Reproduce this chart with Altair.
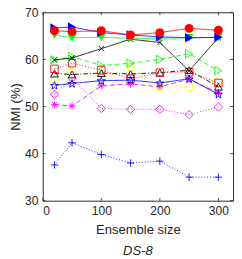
import math
import altair as alt
import pandas as pd

# ---------------- data ----------------
ensemble_sizes = [20, 50, 100, 150, 200, 250, 300]

red_circle = [66.1, 65.9, 66.1, 65.2, 65.7, 66.6, 66.2]
blue_tri_right = [66.7, 66.9, 65.7, 65.2, 64.8, 64.6, 64.7]
green_tri_down = [65.2, 64.6, 64.7, 64.5, 64.5, 64.6, 64.7]
black_x = [59.9, 60.3, 62.3, 64.3, 63.6, 57.6, 64.6]
green_open_tri = [59.9, 60.6, 58.7, 59.2, 60.0, 61.2, 57.6]
red_open_square = [58.0, 59.2, 57.7, 55.9, 57.2, 57.3, 55.0]
black_open_tri = [57.0, 56.8, 57.1, 56.9, 57.2, 57.7, 54.2]
yellow_open_circle = [55.5, 57.3, 56.0, 58.3, 54.2, 54.2, 55.2]
blue_star = [54.5, 54.9, 55.5, 55.6, 55.0, 55.9, 52.6]
magenta_asterisk = [50.4, 50.1, 54.4, 54.8, 54.2, 55.8, 52.9]
magenta_diamond = [52.6, 56.0, 49.6, 49.4, 49.4, 48.3, 49.9]
blue_plus = [37.6, 42.3, 39.8, 38.0, 38.4, 35.0, 35.0]

x_ticks = [0, 100, 200, 300]
y_ticks = [30, 40, 50, 60, 70]

# ---------------- marker shapes ----------------
def star_path():
    pts = []
    for i in range(10):
        r = 1.0 if i % 2 == 0 else 0.4
        a = -math.pi / 2 + i * math.pi / 5
        pts.append((r * math.cos(a), r * math.sin(a) + 0.1))
    return "M" + "L".join(f"{px:.3f},{py:.3f}" for px, py in pts) + "Z"

X_PATH = "M-0.8,-0.8L0.8,0.8M-0.8,0.8L0.8,-0.8"
PLUS_PATH = "M-1,0L1,0M0,-1L0,1"
AST_PATH = "M-1,0L1,0M0,-1L0,1M-0.7,-0.7L0.7,0.7M-0.7,0.7L0.7,-0.7"
STAR_PATH = star_path()

SOLID = [1, 0]
DASH = [5, 3]
DOT = [1, 2]
DASHDOT = [5, 2, 1, 2]

# (values, color, shape, filled, dash, size)
series = [
    (blue_plus, "#0000FF", PLUS_PATH, False, DOT, 60),
    (magenta_diamond, "#FF00FF", "diamond", False, DOT, 75),
    (magenta_asterisk, "#FF00FF", AST_PATH, False, DASH, 60),
    (yellow_open_circle, "#FFFF00", "circle", False, DOT, 65),
    (black_open_tri, "#000000", "triangle-up", False, DASHDOT, 65),
    (red_open_square, "#FF0000", "square", False, DOT, 60),
    (green_open_tri, "#00FF00", "triangle-right", False, DASH, 75),
    (blue_star, "#0000FF", STAR_PATH, False, SOLID, 75),
    (black_x, "#000000", X_PATH, False, SOLID, 50),
    (green_tri_down, "#00FF00", "triangle-down", True, SOLID, 85),
    (blue_tri_right, "#0000FF", "triangle-right", True, SOLID, 95),
    (red_circle, "#FF0000", "circle", True, SOLID, 85),
]

FONT = "Liberation Sans"
GRAY = "#262626"

x_scale = alt.Scale(domain=[0, 325], nice=False, zero=False)
y_scale = alt.Scale(domain=[30, 70], nice=False, zero=False)

x_enc = alt.X("x:Q", scale=x_scale,
              axis=alt.Axis(title="Ensemble size", values=x_ticks, ticks=False,
                            domain=False, grid=False, labelPadding=4,
                            titlePadding=7, format="d"))
y_enc = alt.Y("y:Q", scale=y_scale,
              axis=alt.Axis(title="NMI (%)", values=y_ticks, ticks=False,
                            domain=False, grid=False, labelPadding=5,
                            titlePadding=2, format="d"))

layers = []
for vals, color, shape, filled, dash, size in series:
    df = pd.DataFrame({"x": ensemble_sizes, "y": vals})
    layers.append(
        alt.Chart(df).mark_line(color=color, strokeWidth=0.9, strokeDash=dash)
        .encode(x=x_enc, y=y_enc)
    )
    layers.append(
        alt.Chart(df).mark_point(shape=shape, filled=filled, color=color,
                                 size=size, strokeWidth=0.9, opacity=1)
        .encode(x=x_enc, y=y_enc)
    )

# inward tick marks (MATLAB box style)
xt = pd.DataFrame({"x": x_ticks})
yt = pd.DataFrame({"y": y_ticks})
tick_style = dict(color=GRAY, strokeWidth=0.8)
layers.append(alt.Chart(xt).mark_rule(**tick_style).encode(
    x=x_enc, y=alt.datum(30, scale=y_scale), y2=alt.datum(30.6)))
layers.append(alt.Chart(xt).mark_rule(**tick_style).encode(
    x=x_enc, y=alt.datum(70, scale=y_scale), y2=alt.datum(69.4)))
layers.append(alt.Chart(yt).mark_rule(**tick_style).encode(
    y=y_enc, x=alt.datum(0, scale=x_scale), x2=alt.datum(5)))
layers.append(alt.Chart(yt).mark_rule(**tick_style).encode(
    y=y_enc, x=alt.datum(325, scale=x_scale), x2=alt.datum(320)))

chart = (
    alt.layer(*layers)
    .properties(
        width=197, height=195,
        padding={"left": 36, "top": 0, "right": 1, "bottom": 60},
        autosize=alt.AutoSizeParams(type="none"),
        title=alt.TitleParams("DS-8", orient="bottom", fontStyle="italic",
                              fontWeight="normal", font=FONT, fontSize=13.5,
                              color=GRAY, offset=8, anchor="middle"),
    )
    .configure_view(stroke=GRAY, strokeWidth=1)
    .configure_axis(labelFont=FONT, labelFontSize=12.5, labelColor=GRAY,
                    titleFont=FONT, titleFontSize=13.5, titleColor=GRAY,
                    titleFontWeight="normal")
)

chart.save("out.html", embed_options={"renderer": "svg", "actions": False})
